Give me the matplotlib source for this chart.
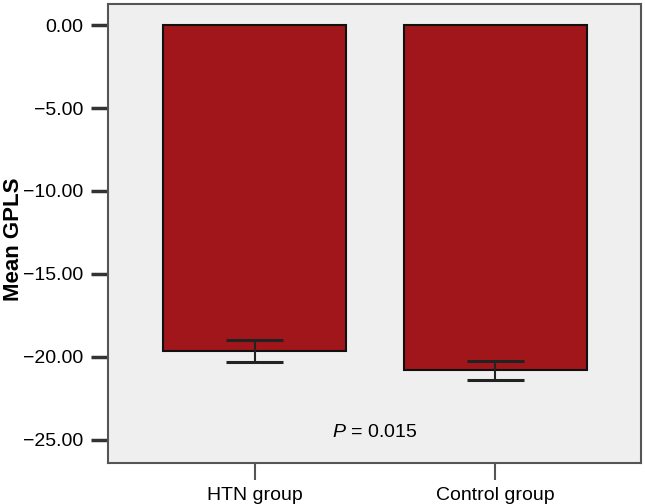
import matplotlib
matplotlib.use("Agg")
import matplotlib.pyplot as plt

categories = ["HTN group", "Control group"]
means = [-19.64, -20.78]
err_low = [-20.3, -21.39]
err_high = [-19.0, -20.28]
yticks = [0, -5, -10, -15, -20, -25]
p_text = "= 0.015"

plt.rcParams['font.family'] = ['Liberation Sans', 'DejaVu Sans']
plt.rcParams['mathtext.fontset'] = 'custom'
plt.rcParams['mathtext.it'] = 'Liberation Sans:italic'
plt.rcParams['mathtext.rm'] = 'Liberation Sans'

fig = plt.figure(figsize=(6.45, 5.04), dpi=100)
ax = fig.add_axes([108/645, 1 - 463/504, (641-108)/645, (463-4)/504])
ax.set_facecolor('#EFEFEF')

x = list(range(len(categories)))
ax.bar(x, means, width=0.76, color='#A0161B', edgecolor='#111111', linewidth=1.5, zorder=2)
for xi, m, lo, hi in zip(x, means, err_low, err_high):
    ax.vlines(xi, lo, hi, color='#222222', linewidth=1.5, zorder=3)
    ax.hlines([lo, hi], xi - 0.12, xi + 0.12, color='#222222', linewidth=2.2, zorder=3)

ax.set_xlim(-0.608, 1.604)
ax.set_ylim(-26.4, 1.27)
ax.set_yticks(yticks)
ax.set_yticklabels([f"{v:.2f}".replace('-', '\u2212') for v in yticks], fontsize=14)
ax.set_xticks(x)
ax.set_xticklabels(categories, fontsize=14)
ax.tick_params(axis='y', length=12, width=2.5, color='#333333', pad=6)
ax.tick_params(axis='x', length=12, width=1.5, color='#555555', pad=5)
ax.set_ylabel("Mean GPLS", fontsize=16, fontweight='bold', va='center')
ax.yaxis.set_label_coords(-94/533, (463-239)/459)

for s in ax.spines.values():
    s.set_color('#555555')
    s.set_linewidth(1.5)

ax.text(0.5, -24.58, "$\\it{P}$ " + p_text, ha='center', va='center', fontsize=14)

fig.savefig("out.png", dpi=100)
